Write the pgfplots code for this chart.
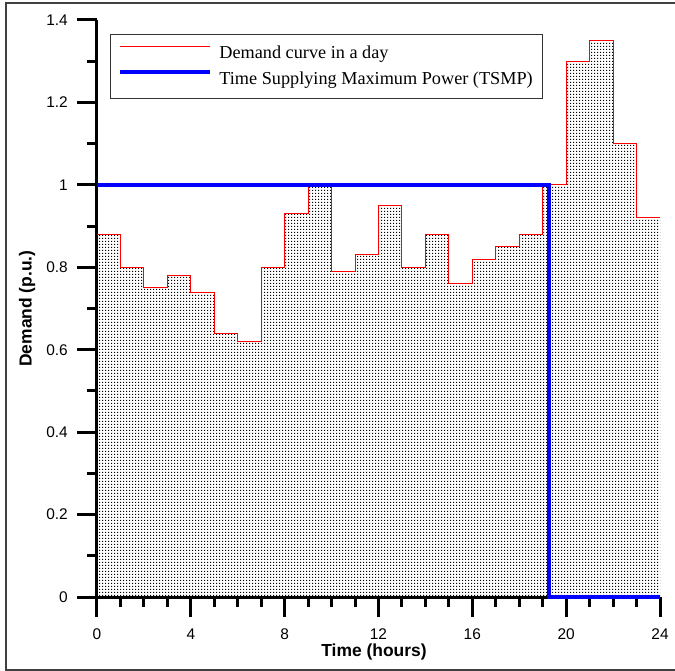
\documentclass[border=0pt]{standalone}
\usepackage{fontspec}
\setmainfont{Liberation Serif}
\setsansfont{Liberation Sans}
\usepackage{pgfplots}
\pgfplotsset{compat=1.18}
\usetikzlibrary{patterns}
\pgfdeclarepatternformonly{finedots}{\pgfpointorigin}{\pgfpoint{3bp}{3bp}}{\pgfpoint{3bp}{3bp}}{%
  \pgfpathrectangle{\pgfpointorigin}{\pgfpoint{1.5bp}{1.5bp}}\pgfusepath{fill}}

\begin{document}
\begin{tikzpicture}
\begin{axis}[
  name=main,
  scale only axis, width=563bp, height=577bp,
  xmin=0, xmax=24, ymin=0, ymax=1.4,
  axis x line=bottom, axis y line=left,
  axis line style={-, line width=3bp, black},
  xtick={0,4,8,12,16,20,24},
  ytick={0,0.2,0.4,0.6,0.8,1,1.2,1.4},
  minor x tick num=3, minor y tick num=1,
  tick align=outside,
  major tick length=20bp, minor tick length=10bp,
  every tick/.style={black, line width=3bp},
  tick label style={font=\sffamily\fontsize{15.5}{18}\selectfont},
  xticklabel style={inner sep=0pt, anchor=north, yshift=-12bp},
  yticklabel style={inner sep=0pt, anchor=east, xshift=-9bp},
  /pgf/number format/assume math mode=true,
  xlabel={Time (hours)}, ylabel={Demand (p.u.)},
  label style={font=\sffamily\bfseries\fontsize{17.5}{20}\selectfont},
  xlabel style={at={(axis description cs:0.492,-0.0953)}, anchor=center},
  ylabel style={at={(axis description cs:-0.1243,0.5)}, anchor=center},
  clip=false,
  legend cell align=left,
  legend style={
    at={(0.0231,0.9757)}, anchor=north west,
    draw=black!80, line width=0.8bp, fill=white,
    inner xsep=8bp, inner ysep=6bp,
    row sep=0bp, column sep=5bp,
    font=\rmfamily\fontsize{18.3}{20}\selectfont,
    nodes={inner xsep=2bp, inner ysep=4bp, text height=14bp, text depth=4bp}
  },
  legend image code/.code={\draw[#1] (0bp,7bp) -- (90bp,7bp);},
]
\addplot[const plot, draw=none, pattern=finedots, pattern color=black, forget plot] coordinates {
(0,0.88)(1,0.80)(2,0.75)(3,0.78)(4,0.74)(5,0.64)(6,0.62)(7,0.80)(8,0.93)(9,1.00)(10,0.79)(11,0.83)(12,0.95)(13,0.80)(14,0.88)(15,0.76)(16,0.82)(17,0.85)(18,0.88)(19,1.00)(20,1.30)(21,1.35)(22,1.10)(23,0.92)(24,0.92)
} \closedcycle;
\addplot[const plot, red, line width=1bp] coordinates {
(0,0.88)(1,0.80)(2,0.75)(3,0.78)(4,0.74)(5,0.64)(6,0.62)(7,0.80)(8,0.93)(9,1.00)(10,0.79)(11,0.83)(12,0.95)(13,0.80)(14,0.88)(15,0.76)(16,0.82)(17,0.85)(18,0.88)(19,1.00)(20,1.30)(21,1.35)(22,1.10)(23,0.92)(24,0.92)
};
\addlegendentry{Demand curve in a day}
\addplot[blue, line width=4bp] coordinates {
(0,1)(19.28,1)(19.28,0)(24,0)
};
\addlegendentry{Time Supplying Maximum Power (TSMP)}
\end{axis}
\draw[line width=1.5bp, black!75] ([xshift=-91bp,yshift=-73bp]main.south west) rectangle ([xshift=590bp,yshift=594bp]main.south west);
\pgfresetboundingbox
\path[use as bounding box] ([xshift=-97bp,yshift=-74bp]main.south west) rectangle ([xshift=578bp,yshift=597bp]main.south west);
\end{tikzpicture}
\end{document}
